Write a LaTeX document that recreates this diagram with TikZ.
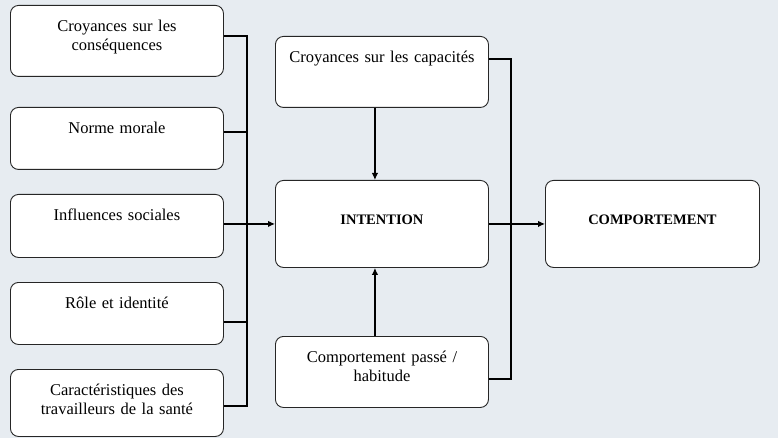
\documentclass[tikz,border=0pt]{standalone}
\usepackage{fontspec}
\setmainfont{Liberation Serif}
\usepackage{xcolor}
\usetikzlibrary{arrows.meta}
\definecolor{fondbleu}{RGB}{231,236,241}
\tikzset{
  box/.style={draw=black!85, line width=0.9pt, fill=white, rounded corners=8pt,
    text width=213pt, align=center, inner sep=0pt, anchor=north west,
    font=\fontsize{16.5}{19}\selectfont, text height=26pt, text depth=#1},
  bigbox/.style={box=#1, text height=44pt, font=\fontsize{14.5}{17}\selectfont\bfseries},
  conn/.style={line width=1.3pt},
  arr/.style={line width=1.3pt, -{Latex[length=7pt,width=6.5pt]}}
}

\begin{document}
\begin{tikzpicture}[x=1pt,y=-1pt]
\fill[fondbleu] (0,0) rectangle (778,438);
\useasboundingbox (0,0) rectangle (778,438);
% facteurs a gauche
\node[box=45pt] (cons) at (10,5) {Croyances sur les\\conséquences};
\node[box=36pt] (norme) at (10,107) {Norme morale};
\node[box=37pt] (infl) at (10,194) {Influences sociales};
\node[box=36pt] (role) at (10,282) {Rôle et identité};
\node[box=41pt] (carac) at (10,369) {Caractéristiques des\\travailleurs de la santé};
% centre et droite
\node[box=45pt] (capa) at (275,36) {Croyances sur les capacités};
\node[bigbox=43pt] (inten) at (275,180) {INTENTION};
\node[box=45pt] (passe) at (275,336) {Comportement passé /\\habitude};
\node[bigbox=43pt, text width=214pt] (compo) at (545,180) {COMPORTEMENT};
\coordinate (busg) at (247,224);
\coordinate (busd) at (511,224);
\foreach \n/\off in {cons/31,norme/25,role/40,carac/37}
\draw[conn] ([yshift=-\off pt]\n.north east) -| (busg);
\draw[arr] (infl.east |- inten.west) -- (inten.west);
\draw[conn] ([yshift=-23pt]capa.north east) -| (busd);
\draw[conn] ([yshift=-43pt]passe.north east) -| (busd);
\draw[arr] (inten.east) -- (compo.west);
\draw[arr] ([xshift=-7pt]capa.south) -- ([xshift=-7pt]inten.north);
\draw[arr] ([xshift=-7pt]passe.north) -- ([xshift=-7pt]inten.south);
\end{tikzpicture}
\end{document}
